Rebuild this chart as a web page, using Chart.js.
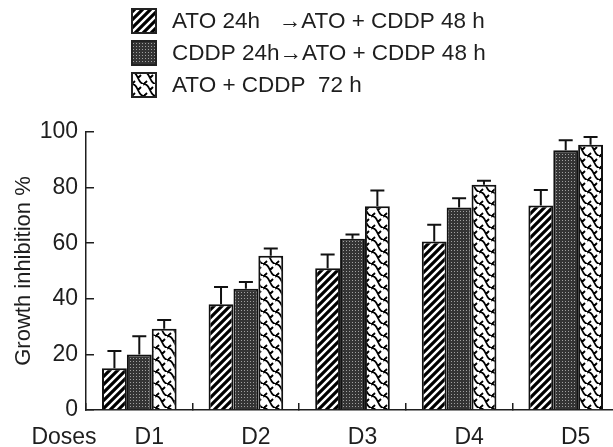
<!DOCTYPE html>
<html>
<head>
<meta charset="utf-8">
<script src="https://cdn.jsdelivr.net/npm/chart.js@4.4.1/dist/chart.umd.min.js"></script>
<style>
  html, body { margin: 0; padding: 0; background: #fff; overflow: hidden; width: 613px; height: 447px; }
  canvas { display: block; }
</style>
</head>
<body>
<canvas id="c" width="626" height="447"></canvas>
<script>
// ---- data ----
const categories = ['D1', 'D2', 'D3', 'D4', 'D5'];
const seriesNames = [
  'ATO 24h   \u2192ATO + CDDP 48 h',
  'CDDP 24h\u2192ATO + CDDP 48 h',
  'ATO + CDDP  72 h'
];
const ato24Values   = [15.0, 38.0, 51.0, 60.6, 73.6];
const ato24Err      = [6.2, 6.2, 4.9, 6.0, 5.5];
const cddp24Values  = [20.0, 43.6, 61.6, 72.8, 93.4];
const cddp24Err     = [6.5, 2.4, 1.5, 3.4, 3.6];
const combo72Values = [29.2, 55.5, 73.3, 81.0, 95.4];
const combo72Err    = [3.2, 2.6, 5.7, 1.5, 2.8];
const yMin = 0, yMax = 100, yStep = 20;
const xAxisLead = 'Doses';

const FONT = "'Liberation Sans', Arial, Helvetica, sans-serif";
const INK = '#1e1e1e';

const canvas = document.getElementById('c');
const ctx = canvas.getContext('2d');

function makeTile(w, h, draw) {
  const t = document.createElement('canvas');
  t.width = w; t.height = h;
  draw(t.getContext('2d'), w, h);
  return ctx.createPattern(t, 'repeat');
}
const hatchPattern = makeTile(8, 8, (x) => {
  x.fillStyle = '#fff'; x.fillRect(0, 0, 8, 8);
  x.strokeStyle = '#000'; x.lineWidth = 3.2;
  x.beginPath();
  x.moveTo(-2, 10); x.lineTo(10, -2);
  x.moveTo(-2, 2); x.lineTo(2, -2);
  x.moveTo(6, 10); x.lineTo(10, 6);
  x.stroke();
});
const darkPattern = makeTile(3, 3, (x) => {
  x.fillStyle = '#343434'; x.fillRect(0, 0, 3, 3);
  x.fillStyle = '#a0a0a0'; x.fillRect(1, 1, 1, 1);
});
const wavePattern = makeTile(12, 12, (x) => {
  x.fillStyle = '#fff'; x.fillRect(0, 0, 12, 12);
  x.strokeStyle = '#000'; x.lineWidth = 1.9;
  x.beginPath();
  x.moveTo(0, 0); x.bezierCurveTo(7, 0, 5, 12, 12, 12);
  x.moveTo(-6, 6); x.bezierCurveTo(1, 6, -1, 18, 6, 18);
  x.moveTo(6, -6); x.bezierCurveTo(13, -6, 11, 6, 18, 6);
  x.moveTo(0, 12); x.lineTo(3, 9);
  x.moveTo(6, 6); x.lineTo(9, 3);
  x.stroke();
});
const patterns = [hatchPattern, darkPattern, wavePattern];

const valueSets = [ato24Values, cddp24Values, combo72Values];
const errSets = [ato24Err, cddp24Err, combo72Err];

const datasets = valueSets.map((vals, i) => ({
  label: seriesNames[i],
  data: vals,
  backgroundColor: patterns[i],
  borderColor: '#111',
  borderWidth: 2,
  borderSkipped: 'bottom',
  barPercentage: 1.0,
  categoryPercentage: 0.70
}));

const errorBars = {
  id: 'errorBars',
  afterDatasetsDraw(chart) {
    const c = chart.ctx, ys = chart.scales.y;
    c.save();
    c.strokeStyle = '#111';
    c.lineWidth = 2;
    datasets.forEach((ds, i) => {
      const meta = chart.getDatasetMeta(i);
      meta.data.forEach((bar, j) => {
        const top = ys.getPixelForValue(valueSets[i][j] + errSets[i][j]);
        c.beginPath();
        c.moveTo(bar.x, bar.y);
        c.lineTo(bar.x, top);
        c.moveTo(bar.x - 7, top);
        c.lineTo(bar.x + 7, top);
        c.stroke();
      });
    });
    c.restore();
  }
};

const legendAndLead = {
  id: 'legendAndLead',
  afterDraw(chart) {
    const c = chart.ctx;
    c.save();
    c.font = '22.5px ' + FONT;
    c.textBaseline = 'middle';
    c.textAlign = 'left';
    seriesNames.forEach((name, i) => {
      const by = 9 + i * 32;
      c.fillStyle = patterns[i];
      c.fillRect(132, by, 24, 24);
      c.strokeStyle = '#222';
      c.lineWidth = 2;
      c.strokeRect(132, by, 24, 24);
      c.fillStyle = INK;
      c.fillText(name, 172, by + 13);
    });
    // leading label of the category axis row
    const xs = chart.scales.x;
    c.font = '23px ' + FONT;
    c.textAlign = 'center';
    c.fillText(xAxisLead, 64, xs.top + 28);
    c.restore();
  }
};

new Chart(canvas, {
  type: 'bar',
  data: { labels: categories, datasets },
  options: {
    responsive: false,
    animation: false,
    layout: { padding: { top: 132, right: 7, bottom: 0, left: 0 } },
    plugins: { legend: { display: false }, tooltip: { enabled: false } },
    scales: {
      x: {
        offset: true,
        afterFit(scale) { scale.height = 37; },
        grid: { display: true, offset: true, drawOnChartArea: false, tickLength: -7, color: INK, lineWidth: 1.5 },
        border: { display: true, color: INK, width: 1.5 },
        ticks: { color: INK, font: { family: FONT, size: 23 }, padding: 21, labelOffset: 10, maxRotation: 0 }
      },
      y: {
        min: yMin, max: yMax,
        afterFit(scale) { scale.width = 86; },
        grid: { display: true, drawOnChartArea: false, tickLength: -8, color: INK, lineWidth: 1.5 },
        border: { display: true, color: INK, width: 1.5 },
        ticks: { stepSize: yStep, color: INK, font: { family: FONT, size: 23 }, padding: 16 },
        title: { display: true, text: 'Growth inhibition %', color: INK, font: { family: FONT, size: 22 }, padding: { top: 11, bottom: 0 } }
      }
    }
  },
  plugins: [errorBars, legendAndLead]
});
</script>
</body>
</html>
